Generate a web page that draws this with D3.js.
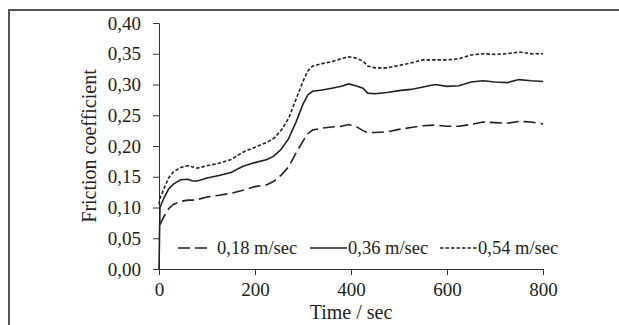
<!DOCTYPE html>
<html>
<head>
<meta charset="utf-8">
<script src="https://cdn.jsdelivr.net/npm/d3@7"></script>
<style>
  body { margin: 0; background: #fff; }
  svg { display: block; font-family: "Liberation Serif", "Times New Roman", serif; }
  .axis path, .axis line { stroke: #333; }
  .axis text { fill: #222; font-size: 19px; font-family: "Liberation Serif", serif; }
</style>
</head>
<body>
<div id="root"></div>
<script>
const time = [0, 2, 10, 20, 30, 45, 60, 70, 80, 100, 125, 150, 175, 200, 225, 240, 255, 270, 285, 300,
  310, 320, 340, 360, 380, 395, 410, 425, 435, 450, 475, 500, 525, 550, 575, 600, 625, 650, 675, 700,
  725, 750, 775, 800];

const slow = [null, 0.072, 0.085, 0.098, 0.105, 0.110, 0.112, 0.112, 0.113, 0.117, 0.120, 0.123, 0.128,
  0.134, 0.137, 0.143, 0.153, 0.166, 0.188, 0.208, 0.220, 0.226, 0.229, 0.231, 0.232, 0.235, 0.232,
  0.225, 0.222, 0.222, 0.223, 0.227, 0.230, 0.233, 0.234, 0.232, 0.232, 0.235, 0.239, 0.238, 0.237,
  0.240, 0.239, 0.236];

const mid = [0.0, 0.100, 0.115, 0.130, 0.138, 0.145, 0.146, 0.143, 0.143, 0.148, 0.152, 0.157, 0.167,
  0.173, 0.178, 0.184, 0.195, 0.212, 0.238, 0.268, 0.283, 0.289, 0.291, 0.294, 0.297, 0.301, 0.298,
  0.294, 0.286, 0.285, 0.287, 0.290, 0.292, 0.296, 0.300, 0.297, 0.298, 0.304, 0.306, 0.304, 0.303,
  0.308, 0.306, 0.305];

const fast = [0.105, 0.115, 0.130, 0.148, 0.158, 0.165, 0.168, 0.166, 0.164, 0.168, 0.172, 0.178, 0.190,
  0.198, 0.206, 0.213, 0.226, 0.245, 0.275, 0.305, 0.322, 0.330, 0.334, 0.337, 0.342, 0.345, 0.343,
  0.338, 0.330, 0.327, 0.327, 0.331, 0.335, 0.340, 0.340, 0.340, 0.342, 0.348, 0.350, 0.349, 0.350,
  0.353, 0.350, 0.350];

const seriesNames = ["0,18 m/sec", "0,36 m/sec", "0,54 m/sec"];
const yTicks = [0, 0.05, 0.10, 0.15, 0.20, 0.25, 0.30, 0.35, 0.40];
const xTicks = [0, 200, 400, 600, 800];

const width = 619;
const height = 325;

const svg = d3.select("#root")
  .append("svg")
  .attr("width", width)
  .attr("height", height);

// outer frame (open to the right and bottom)
svg.append("path")
  .attr("d", `M9,${height + 5} L9,10 L${width + 5},10`)
  .attr("fill", "none")
  .attr("stroke", "#555")
  .attr("stroke-width", 2);

const x = d3.scaleLinear().domain([0, 800]).range([159, 543]);
const y = d3.scaleLinear().domain([0, 0.40]).range([269, 23]);

const fmt = d3.format(".2f");

svg.append("g")
  .attr("class", "axis")
  .attr("transform", `translate(0,${y(0)})`)
  .call(d3.axisBottom(x).tickValues(xTicks).tickSize(6).tickSizeOuter(6).tickPadding(7))
  .call((g) => g.selectAll("text").attr("dy", "0.75em"));

svg.append("g")
  .attr("class", "axis")
  .attr("transform", `translate(${x(0)},0)`)
  .call(d3.axisLeft(y).tickValues(yTicks).tickFormat((d) => fmt(d).replace(".", ","))
    .tickSize(6).tickSizeOuter(6).tickPadding(12));

const series = [
  { name: seriesNames[0], values: slow, dash: "12,5" },
  { name: seriesNames[1], values: mid, dash: null },
  { name: seriesNames[2], values: fast, dash: "3.5,2" }
];

const line = d3.line()
  .defined((d) => d[1] != null)
  .x((d) => x(d[0]))
  .y((d) => y(d[1]));

svg.append("g")
  .selectAll("path")
  .data(series)
  .join("path")
  .attr("fill", "none")
  .attr("stroke", "#222")
  .attr("stroke-width", 1.6)
  .attr("stroke-dasharray", (d) => d.dash)
  .attr("d", (d) => line(time.map((t, i) => [t, d.values[i]])));

// legend
const legendX = [178, 310, 440];
const legendY = 248;
const legend = svg.append("g")
  .selectAll("g")
  .data(series)
  .join("g")
  .attr("transform", (d, i) => `translate(${legendX[i]},${legendY})`);

legend.append("line")
  .attr("x1", 0)
  .attr("x2", (d, i) => (i === 0 ? 30 : 37))
  .attr("stroke", "#222")
  .attr("stroke-width", 1.6)
  .attr("stroke-dasharray", (d) => d.dash);

legend.append("text")
  .attr("x", (d, i) => (i === 0 ? 39 : 38))
  .attr("dy", "0.35em")
  .attr("fill", "#222")
  .attr("font-size", 18.5)
  .text((d) => d.name);

// axis titles
svg.append("text")
  .attr("x", x(400))
  .attr("y", 319)
  .attr("text-anchor", "middle")
  .attr("fill", "#222")
  .attr("font-size", 20)
  .text("Time / sec");

svg.append("text")
  .attr("transform", `translate(96,${(y(0) + y(0.40)) / 2}) rotate(-90)`)
  .attr("text-anchor", "middle")
  .attr("fill", "#222")
  .attr("font-size", 20)
  .text("Friction coefficient");
</script>
</body>
</html>
